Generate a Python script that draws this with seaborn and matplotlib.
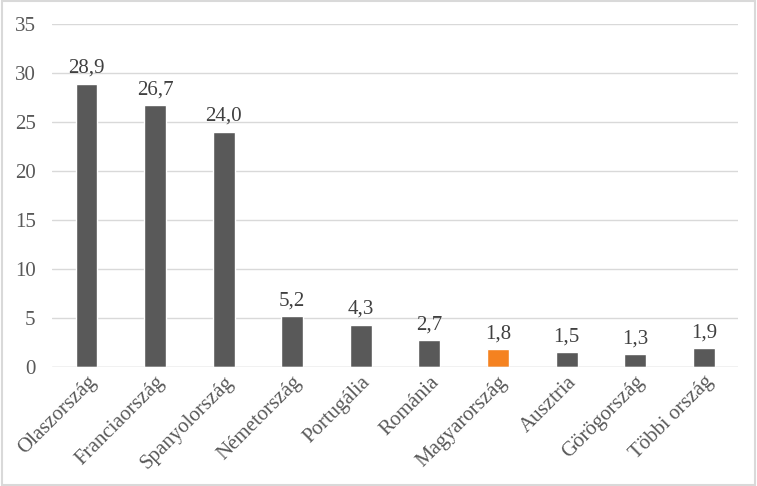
import matplotlib
matplotlib.use("Agg")
import matplotlib.pyplot as plt
import seaborn as sns
import pandas as pd
from matplotlib.patches import Rectangle

# data
countries = ["Olaszország", "Franciaország", "Spanyolország", "Németország", "Portugália",
             "Románia", "Magyarország", "Ausztria", "Görögország", "Többi ország"]
values = [28.9, 26.7, 24.0, 5.2, 4.3, 2.7, 1.8, 1.5, 1.3, 1.9]
highlight = "Magyarország"

sns.set_style("white")
plt.rcParams['font.family'] = ['Liberation Serif', 'DejaVu Serif']

text_col = "#595959"
bar_col = "#595959"
hl_col = "#F58220"

df = pd.DataFrame({"country": countries, "value": values})
palette = {c: (hl_col if c == highlight else bar_col) for c in countries}

fig = plt.figure(figsize=(7.57, 4.86), dpi=100)
ax = fig.add_axes([0.069, 0.245, 0.906, 0.706])
sns.barplot(data=df, x="country", y="value", hue="country", palette=palette,
            width=0.32, legend=False, ax=ax, saturation=1)

ax.set_ylim(0, 35)
ax.set_yticks(range(0, 36, 5))
ax.set_xlim(-0.5, len(countries) - 0.5)
ax.grid(axis="y", color="#D9D9D9", linewidth=1)
ax.set_axisbelow(True)
for s in ax.spines.values():
    s.set_visible(False)
ax.axhline(0, color="#D9D9D9", linewidth=1, zorder=1)
ax.set_xlabel("")
ax.set_ylabel("")
ax.tick_params(axis="both", length=0, labelsize=15, colors=text_col)
ax.tick_params(axis="y", pad=12)
ax.tick_params(axis="x", pad=4)
plt.setp(ax.get_xticklabels(), rotation=45, ha="right", rotation_mode="anchor")

for i, v in enumerate(values):
    ax.text(i, v + 0.6, f"{v:.1f}".replace(".", ","), ha="center", va="bottom",
            fontsize=15, color="#404040")

fig.patches.append(Rectangle((0.002, 0.003), 0.996, 0.994, transform=fig.transFigure,
                             fill=False, edgecolor="#D9D9D9", linewidth=1.5))

fig.savefig("out.png", dpi=100)
